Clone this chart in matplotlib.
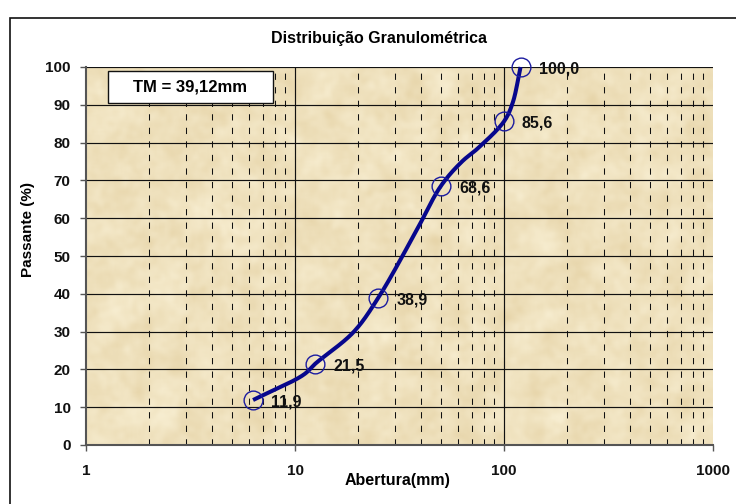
import numpy as np
import matplotlib
matplotlib.use("Agg")
import matplotlib.pyplot as plt
from matplotlib.patches import Rectangle
from matplotlib.ticker import FixedLocator, NullFormatter, NullLocator

plt.rcParams['font.family'] = ['Liberation Sans', 'DejaVu Sans']
plt.rcParams['font.weight'] = 'bold'

# Sieve openings (mm) and cumulative passing (%) for the smoothed curve
curve_mm = [6.3, 11.0, 12.5, 19.0, 25.0, 37.5, 50.0, 63.0, 75.0, 100.0, 110.0, 120.0]
curve_pct = [11.9, 18.6, 21.5, 29.8, 38.9, 56.0, 68.6, 75.0, 78.5, 85.6, 90.5, 100.0]

# Labelled points
mark_mm = [6.3, 12.5, 25.0, 50.0, 100.0, 120.0]
mark_pct = [11.9, 21.5, 38.9, 68.6, 85.6, 100.0]

title = "Distribuição Granulométrica"
x_title = "Abertura(mm)"
y_title = "Passante (%)"
tm_text = "TM = 39,12mm"
x_ticks = [1, 10, 100, 1000]
y_ticks = list(range(0, 101, 10))

W, H = 736, 504
fig = plt.figure(figsize=(W / 100, H / 100), dpi=100)
fig.patch.set_facecolor('white')

ax = fig.add_axes([86 / W, 1 - 445 / H, (713 - 86) / W, (445 - 67) / H])
ax.set_xscale('log')
ax.set_xlim(1, 1000)
ax.set_ylim(0, 100)

# parchment background
rng = np.random.default_rng(11)
def smooth_noise(shape, n):
    a = rng.normal(size=shape)
    k = np.ones(n) / n
    for _ in range(2):
        a = np.apply_along_axis(lambda r: np.convolve(r, k, mode='same'), 1, a)
        a = np.apply_along_axis(lambda c: np.convolve(c, k, mode='same'), 0, a)
    return (a - a.mean()) / a.std()
tex = 0.6 * smooth_noise((190, 310), 9) + 0.4 * smooth_noise((190, 310), 3)
tex = np.clip(0.5 + 0.2 * tex, 0, 1)
light = np.array([247, 237, 208]) / 255
dark = np.array([231, 213, 170]) / 255
img = light[None, None, :] * (1 - tex[..., None]) + dark[None, None, :] * tex[..., None]
ax.imshow(img, extent=[0, 1, 0, 1], transform=ax.transAxes, aspect='auto',
          interpolation='bilinear', zorder=0)

# grid
for yv in y_ticks[1:]:
    ax.axhline(yv, color='#111111', lw=0.85, zorder=1)
for dec in [1, 10, 100]:
    for mm in range(2, 10):
        ax.axvline(dec * mm, color='#111111', lw=0.75, ls=(0, (6, 7)), zorder=1)
for xv in [10, 100]:
    ax.axvline(xv, color='#111111', lw=0.85, zorder=1)

# smooth curve: centripetal Catmull-Rom in display-like units (log-x)
px = np.log10(curve_mm) * 209.0
py = np.array(curve_pct) * 3.78
P = np.column_stack([px, py])
n = len(P)
d = np.sqrt(np.linalg.norm(np.diff(P, axis=0), axis=1))
m = np.zeros_like(P)
m[0] = (P[1] - P[0]) / d[0]
m[-1] = (P[-1] - P[-2]) / d[-1]
for i in range(1, n - 1):
    m[i] = ((P[i] - P[i - 1]) / d[i - 1] - (P[i + 1] - P[i - 1]) / (d[i - 1] + d[i])
            + (P[i + 1] - P[i]) / d[i])
t = np.linspace(0, 1, 40)[:, None]
segs = []
for i in range(n - 1):
    b0, b3 = P[i], P[i + 1]
    b1 = b0 + m[i] * d[i] / 3
    b2 = b3 - m[i + 1] * d[i] / 3
    segs.append((1 - t) ** 3 * b0 + 3 * (1 - t) ** 2 * t * b1 + 3 * (1 - t) * t ** 2 * b2 + t ** 3 * b3)
C = np.vstack(segs)
ax.plot(10 ** (C[:, 0] / 209.0), C[:, 1] / 3.78, color='#07078C', lw=2.9,
        solid_capstyle='butt', zorder=3, clip_on=False)

ax.plot(mark_mm, mark_pct, ls='none', marker='o', ms=13.5, mfc='none',
        mec='#1C1CA0', mew=1.0, zorder=4, clip_on=False)
for xm, ym in zip(mark_mm, mark_pct):
    ax.annotate(f"{ym:.1f}".replace('.', ','), (xm, ym), xytext=(18, -2),
                textcoords='offset pixels', ha='left', va='center',
                fontsize=11.5, fontweight='bold', color='#111111', zorder=5)

# axes styling
for s in ['top', 'right']:
    ax.spines[s].set_visible(False)
for s in ['left', 'bottom']:
    ax.spines[s].set_color('#555555')
    ax.spines[s].set_linewidth(1.5)
ax.xaxis.set_major_locator(FixedLocator(x_ticks))
ax.xaxis.set_minor_locator(NullLocator())
ax.xaxis.set_minor_formatter(NullFormatter())
ax.set_xticklabels([str(v) for v in x_ticks])
ax.set_yticks(y_ticks)
ax.set_yticklabels([str(v) for v in y_ticks])
ax.tick_params(axis='both', direction='out', length=4, width=1, color='#555555',
               labelsize=11, labelcolor='#111111')
ax.tick_params(axis='x', pad=10)
ax.tick_params(axis='y', pad=7)
for lab in ax.get_xticklabels() + ax.get_yticklabels():
    lab.set_fontweight('bold')

# titles
fig.text(379 / W, 1 - 38 / H, title, ha='center', va='center', fontsize=11.5, fontweight='bold')
fig.text(398 / W, 1 - 480 / H, x_title, ha='center', va='center', fontsize=11.5, fontweight='bold')
fig.text(28 / W, 1 - 230 / H, y_title, ha='center', va='center', rotation=90,
         fontsize=11, fontweight='bold')

# TM box
box = Rectangle((108 / W, 1 - 103 / H), (273 - 108) / W, (103 - 71) / H,
                transform=fig.transFigure, facecolor='white', edgecolor='#111111',
                lw=1.0, zorder=6)
fig.patches.append(box)
fig.text(190 / W, 1 - 87 / H, tm_text, ha='center', va='center', fontsize=12,
         fontweight='bold', zorder=7)

# chart frame
frame = Rectangle((10 / W, -0.1), 1.2, 1 - 18 / H + 0.1, transform=fig.transFigure,
                  facecolor='none', edgecolor='#111111', lw=1.2)
fig.patches.append(frame)

fig.savefig('out.png', dpi=100)
